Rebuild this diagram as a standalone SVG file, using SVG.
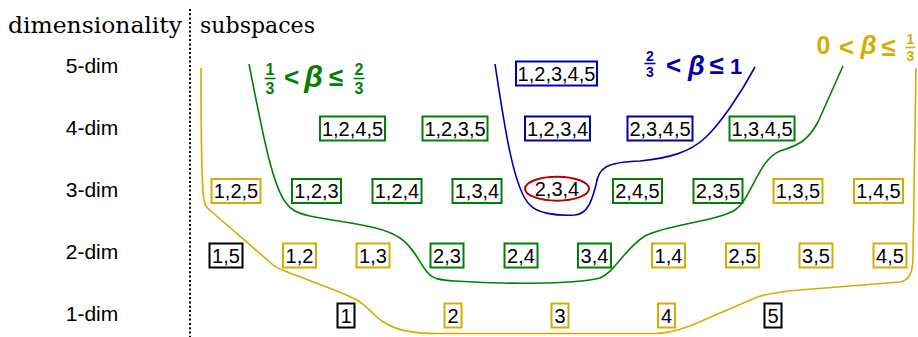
<svg xmlns="http://www.w3.org/2000/svg" width="918" height="337" viewBox="0 0 918 337">
<style>
.t{font-family:"Liberation Sans",Arial,Helvetica,sans-serif;font-size:20px;text-anchor:middle;fill:#000}
.h{font-family:"DejaVu Serif","Liberation Serif",serif;font-size:23px;fill:#000}
.box{fill:#fff;stroke-width:2}
.G{stroke:#008000}.B{stroke:#0000b3}.Y{stroke:#d5ad00}.K{stroke:#000}.R{stroke:#b30000}
.c{fill:none;stroke-width:1.6}
.m{font-family:"Liberation Sans",Arial,sans-serif;font-weight:bold;text-anchor:middle}
.mg{fill:#008000}.mb{fill:#0000b3}.my{fill:#d5ad00}
</style>

<!-- headers -->
<g id="headers">
<text class="h" x="8" y="33" textLength="174" lengthAdjust="spacingAndGlyphs">dimensionality</text>
<text class="h" x="200" y="33" textLength="115" lengthAdjust="spacingAndGlyphs">subspaces</text>
<line x1="190" y1="9" x2="190" y2="337" stroke="#000" stroke-width="2" stroke-dasharray="2 2.3"/>
</g>
<g id="rowlabels">
<text class="t" x="92" y="73" style="font-size:21px">5-dim</text>
<text class="t" x="92" y="135" style="font-size:21px">4-dim</text>
<text class="t" x="92" y="197" style="font-size:21px">3-dim</text>
<text class="t" x="92" y="259" style="font-size:21px">2-dim</text>
<text class="t" x="92" y="321" style="font-size:21px">1-dim</text>
</g>

<!-- connectors / region boundaries -->
<g id="connectors">
<path class="c Y" d="M201,68 C201,130 201,185 204,200 C205,206 207,208 212,212 L272,264 C276,268 279,269 285,271 C310,281 340,291 355,299 C368,306 372,314 382,321 C395,330 410,333.5 440,333.5 L655,333.5 C668,333 675,331 690,326 L755,298 C765,294 775,292 800,290 L900,282 C910,280 913,272 913,255 L916,68"/>
<path class="c G" d="M249,64 C262,130 272,185 286,203 C291,210 297,213 310,216 C350,224 380,225 400,238 C415,248 420,265 428,273 C433,279 440,280 455,281 C500,284 570,285 600,278 C615,272 625,248 645,236 C668,224 715,222 735,210 C752,198 758,160 780,151 C800,145 808,140 818,122 L843,66"/>
<path class="c B" d="M495,64 C505,130 514,190 530,205 C537,213 555,216 575,215 C588,214 592,200 596,185 C598,168 606,162 640,161 C670,158 690,152 705,138 C720,124 740,95 755,67"/>
</g>

<!-- beta labels -->
<g id="label-green">
<text class="m mg" x="270" y="75" font-size="16">1</text>
<line x1="264.5" y1="78.5" x2="275.5" y2="78.5" stroke="#008000" stroke-width="1.6"/>
<text class="m mg" x="270" y="93.5" font-size="16">3</text>
<text class="m mg" x="291.5" y="86" font-size="26">&lt;</text>
<text class="m mg" x="313.5" y="87" font-size="30" font-style="italic">β</text>
<text class="m mg" x="336" y="86" font-size="26">≤</text>
<text class="m mg" x="359" y="75" font-size="16">2</text>
<line x1="353.5" y1="78.5" x2="364.5" y2="78.5" stroke="#008000" stroke-width="1.6"/>
<text class="m mg" x="359" y="93.5" font-size="16">3</text>
</g>
<g id="label-blue">
<text class="m mb" x="650" y="60.5" font-size="14">2</text>
<line x1="644.5" y1="63.5" x2="655.5" y2="63.5" stroke="#0000b3" stroke-width="1.6"/>
<text class="m mb" x="650" y="77" font-size="14">3</text>
<text class="m mb" x="673.5" y="74" font-size="26">&lt;</text>
<text class="m mb" x="696.5" y="75" font-size="27" font-style="italic">β</text>
<text class="m mb" x="716.5" y="74" font-size="26">≤</text>
<text class="m mb" x="736" y="73.5" font-size="22">1</text>
</g>
<g id="label-gold">
<text class="m my" x="823.5" y="54" font-size="25" font-weight="normal" font-family="Liberation Serif,serif">0</text>
<text class="m my" x="846.5" y="55.5" font-size="26" font-weight="normal">&lt;</text>
<text class="m my" x="868.5" y="54" font-size="26" font-style="italic" font-weight="normal">β</text>
<text class="m my" x="888.5" y="56" font-size="26" font-weight="normal">≤</text>
<text class="m my" x="910.5" y="44" font-size="14">1</text>
<line x1="905.5" y1="47.5" x2="915.5" y2="47.5" stroke="#d5ad00" stroke-width="1.6"/>
<text class="m my" x="910.5" y="60.5" font-size="14">3</text>
</g>

<!-- row 5 -->
<g id="n12345"><rect class="box B" x="516" y="61.5" width="81" height="24"/><text class="t" x="556.5" y="80.7">1,2,3,4,5</text></g>
<!-- row 4 -->
<g id="n1245"><rect class="box G" x="320" y="116.5" width="65" height="24"/><text class="t" x="352.5" y="135.7">1,2,4,5</text></g>
<g id="n1235"><rect class="box G" x="422.5" y="116.5" width="65" height="24"/><text class="t" x="455" y="135.7">1,2,3,5</text></g>
<g id="n1234"><rect class="box B" x="525" y="116.5" width="65" height="24"/><text class="t" x="557.5" y="135.7">1,2,3,4</text></g>
<g id="n2345"><rect class="box B" x="627.5" y="116.5" width="65" height="24"/><text class="t" x="660" y="135.7">2,3,4,5</text></g>
<g id="n1345"><rect class="box G" x="729.5" y="116.5" width="65" height="24"/><text class="t" x="762" y="135.7">1,3,4,5</text></g>
<!-- row 3 -->
<g id="n125"><rect class="box Y" x="211.5" y="179" width="49" height="24"/><text class="t" x="236" y="198.2">1,2,5</text></g>
<g id="n123"><rect class="box G" x="292" y="179" width="49" height="24"/><text class="t" x="316.5" y="198.2">1,2,3</text></g>
<g id="n124"><rect class="box G" x="372.5" y="179" width="49" height="24"/><text class="t" x="397" y="198.2">1,2,4</text></g>
<g id="n134"><rect class="box G" x="452.5" y="179" width="49" height="24"/><text class="t" x="477" y="198.2">1,3,4</text></g>
<g id="n234"><ellipse class="box R" cx="557" cy="188.7" rx="32" ry="12"/><text class="t" x="557" y="196">2,3,4</text></g>
<g id="n245"><rect class="box G" x="613" y="179" width="49" height="24"/><text class="t" x="637.5" y="198.2">2,4,5</text></g>
<g id="n235"><rect class="box G" x="693.5" y="179" width="49" height="24"/><text class="t" x="718" y="198.2">2,3,5</text></g>
<g id="n135"><rect class="box Y" x="773.5" y="179" width="49" height="24"/><text class="t" x="798" y="198.2">1,3,5</text></g>
<g id="n145"><rect class="box Y" x="854" y="179" width="49" height="24"/><text class="t" x="878.5" y="198.2">1,4,5</text></g>
<!-- row 2 -->
<g id="n15"><rect class="box K" x="209.5" y="243.5" width="33" height="24"/><text class="t" x="226" y="262.7">1,5</text></g>
<g id="n12"><rect class="box Y" x="283" y="243.5" width="33" height="24"/><text class="t" x="299.5" y="262.7">1,2</text></g>
<g id="n13"><rect class="box Y" x="356.5" y="243.5" width="33" height="24"/><text class="t" x="373" y="262.7">1,3</text></g>
<g id="n23"><rect class="box G" x="430.5" y="243.5" width="33" height="24"/><text class="t" x="447" y="262.7">2,3</text></g>
<g id="n24"><rect class="box G" x="504.5" y="243.5" width="33" height="24"/><text class="t" x="521" y="262.7">2,4</text></g>
<g id="n34"><rect class="box G" x="578" y="243.5" width="33" height="24"/><text class="t" x="594.5" y="262.7">3,4</text></g>
<g id="n14"><rect class="box Y" x="652" y="243.5" width="33" height="24"/><text class="t" x="668.5" y="262.7">1,4</text></g>
<g id="n25"><rect class="box Y" x="726" y="243.5" width="33" height="24"/><text class="t" x="742.5" y="262.7">2,5</text></g>
<g id="n35"><rect class="box Y" x="799.5" y="243.5" width="33" height="24"/><text class="t" x="816" y="262.7">3,5</text></g>
<g id="n45"><rect class="box Y" x="873.5" y="243.5" width="33" height="24"/><text class="t" x="890" y="262.7">4,5</text></g>
<!-- row 1 -->
<g id="n1"><rect class="box K" x="337.5" y="303.5" width="17" height="24"/><text class="t" x="346" y="322.7">1</text></g>
<g id="n2"><rect class="box Y" x="444.5" y="303.5" width="17" height="24"/><text class="t" x="453" y="322.7">2</text></g>
<g id="n3"><rect class="box Y" x="551.5" y="303.5" width="17" height="24"/><text class="t" x="560" y="322.7">3</text></g>
<g id="n4"><rect class="box Y" x="658" y="303.5" width="17" height="24"/><text class="t" x="666.5" y="322.7">4</text></g>
<g id="n5"><rect class="box K" x="764.5" y="303.5" width="17" height="24"/><text class="t" x="773" y="322.7">5</text></g>
</svg>
